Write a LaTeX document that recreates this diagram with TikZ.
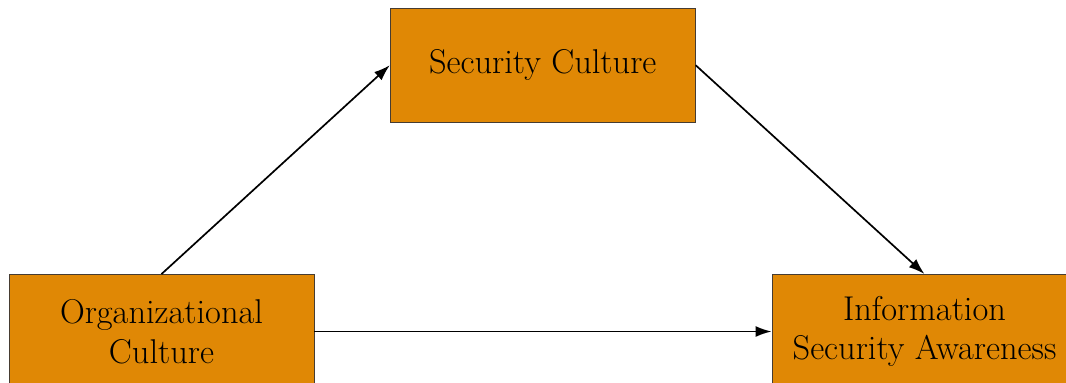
\documentclass[tikz,border=0pt]{standalone}
\usetikzlibrary{arrows.meta}
\definecolor{boxfill}{RGB}{224,136,5}
\definecolor{boxline}{RGB}{70,60,50}
\begin{document}
\begin{tikzpicture}[x=1pt,y=-1pt,
  concept/.style={draw=boxline, line width=0.9pt, fill=boxfill,
    minimum width=305pt, minimum height=114pt, inner sep=0pt,
    align=center, font=\fontsize{34.4}{39.5}\selectfont},
  link/.style={line width=1.7pt, -{Latex[length=16pt,width=11pt]}}]
  \useasboundingbox (0,0) rectangle (1066,383);
  \node[concept] (sc) at (542.75,65.25) {Security Culture};
  \node[concept] (oc) at (161.5,331.5) {Organizational\\Culture};
  \node[concept] (isa) at (924.5,331.5) {Information\\Security Awareness};
  \draw[link] (oc.north) -- (sc.west);
  \draw[link] (sc.east) -- (isa.north);
  \draw[link] (oc.east) -- (isa.west);
\end{tikzpicture}
\end{document}
